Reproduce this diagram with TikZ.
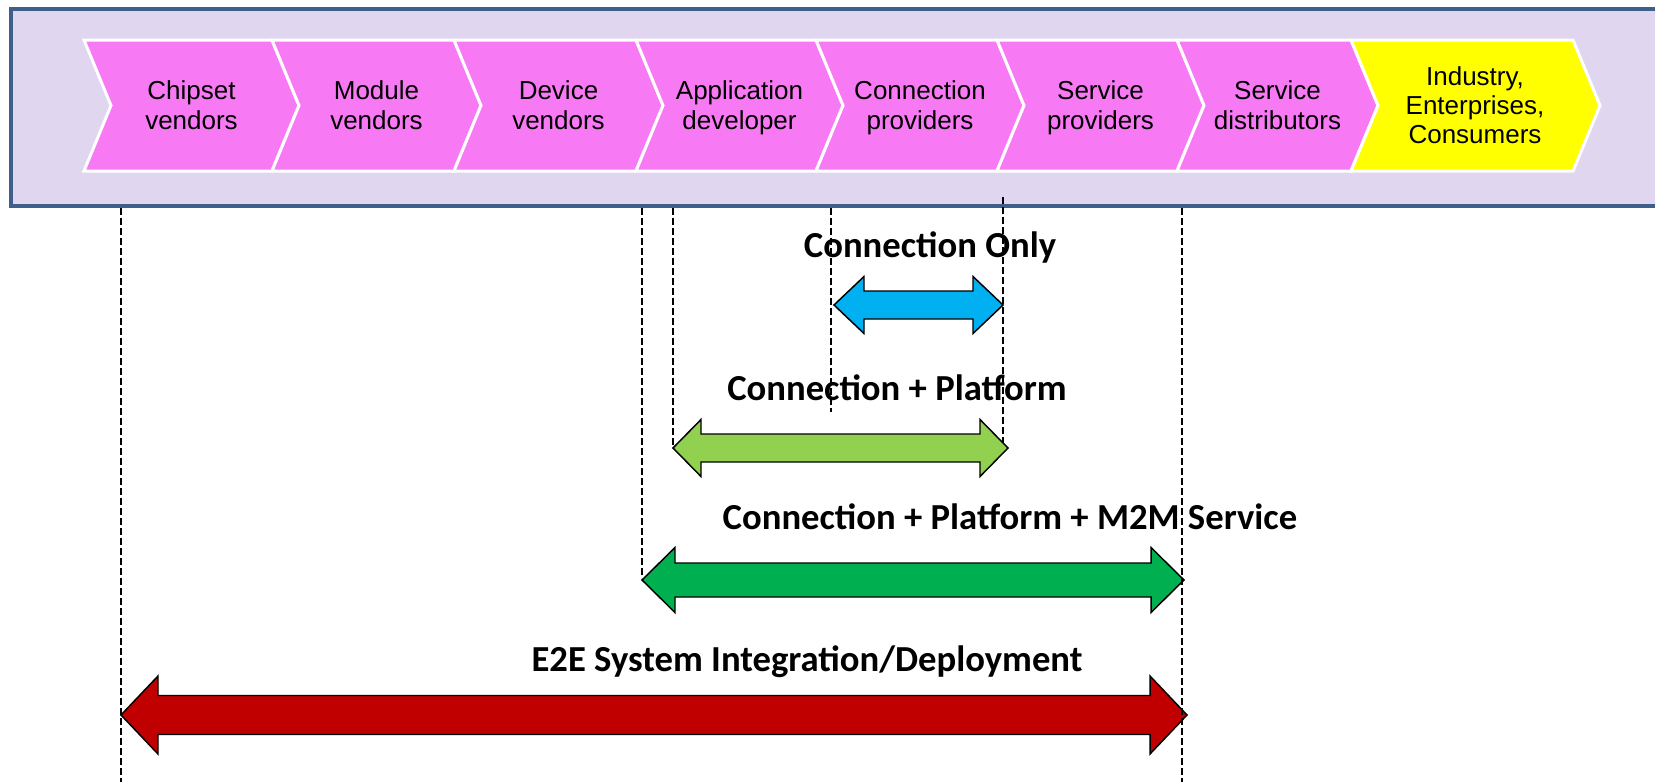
\documentclass[tikz,border=0pt]{standalone}
\usepackage{fontspec}
\setmainfont{Liberation Sans}
\newfontfamily\spanfont{Carlito}

\definecolor{boxfill}{HTML}{E0D6F0}
\definecolor{frameblue}{HTML}{3E5F8A}
\definecolor{stagepink}{HTML}{F77AF4}
\definecolor{stageyellow}{HTML}{FFFF00}
\definecolor{connblue}{HTML}{00B0F0}
\definecolor{platgreen}{HTML}{92D050}
\definecolor{svcgreen}{HTML}{00B050}
\definecolor{e2ered}{HTML}{C00000}

\tikzset{
  stage/.style={align=center, inner sep=0pt, font=\fontsize{19.5}{22}\selectfont,
    execute at begin node=\strut, execute at end node=\strut},
  spanlabel/.style={inner sep=0pt, font=\spanfont\bfseries\fontsize{27.5}{30}\selectfont},
  guide/.style={dash pattern=on 5pt off 2.5pt, line width=0.9pt},
  chevron/.style={draw=white, line width=2.25pt, line join=miter}
}

% block arrow: x1, x2, y, half shaft, half head, head length, colour
\newcommand{\spanarrow}[7]{%
  \filldraw[fill=#7, draw=black, line width=1.1pt, line join=miter]
    (#1,#3) -- ({#1+#6},{#3-#5}) -- ({#1+#6},{#3-#4}) -- ({#2-#6},{#3-#4})
    -- ({#2-#6},{#3-#5}) -- (#2,#3) -- ({#2-#6},{#3+#5}) -- ({#2-#6},{#3+#4})
    -- ({#1+#6},{#3+#4}) -- ({#1+#6},{#3+#5}) -- cycle;}

\begin{document}
\begin{tikzpicture}[x=0.75pt,y=-0.75pt]
\useasboundingbox (0,0) rectangle (1655,782);
\clip (0,0) rectangle (1655,782);

% value chain frame
\draw[line width=3pt, draw=frameblue, fill=boxfill] (11,9) rectangle (1680,206);

% stages
\foreach \a/\b/\name/\txt in {84/272/chip/{Chipset\\vendors},
    272/454/module/{Module\\vendors}, 454/636/device/{Device\\vendors},
    636/816/app/{Application\\developer}, 816/997/connprov/{Connection\\providers},
    997/1177/svcprov/{Service\\providers}, 1177/1351/svcdist/{Service\\distributors}}{
  \filldraw[chevron, fill=stagepink] (\a,40) -- (\b,40) -- (\b+27,105.5) -- (\b,171)
    -- (\a,171) -- (\a+27,105.5) -- cycle;
  \node[stage] (\name) at ({(\a+\b+27)/2},109.5) {\txt};
}
\filldraw[chevron, fill=stageyellow] (1351,40) -- (1573,40) -- (1600,105.5) -- (1573,171)
  -- (1351,171) -- (1378,105.5) -- cycle;
\node[stage] (users) at (1475,109.5) {Industry,\\Enterprises,\\Consumers};

% arrows
\spanarrow{834}{1003}{305}{14}{28.5}{30}{connblue}
\spanarrow{673}{1008}{448}{14}{28.5}{28}{platgreen}
\spanarrow{642}{1184}{580}{17}{32.5}{33}{svcgreen}
\spanarrow{121}{1187}{715}{19.5}{39}{37}{e2ered}

% guides
\foreach \x/\ya/\yb in {121/208/782, 642/208/578, 673/208/448, 831/208/412,
    1003/197/443, 1182/208/782}
  \draw[guide] (\x,\ya) -- (\x,\yb);

\node[spanlabel] (connonly) at (930,247) {Connection Only};
\node[spanlabel] (connplat) at (897,388) {Connection + Platform};
\node[spanlabel] (connsvc) at (1010,517) {Connection + Platform + M2M Service};
\node[spanlabel] (e2e) at (807,662) {E2E System Integration/Deployment};
\end{tikzpicture}
\end{document}
